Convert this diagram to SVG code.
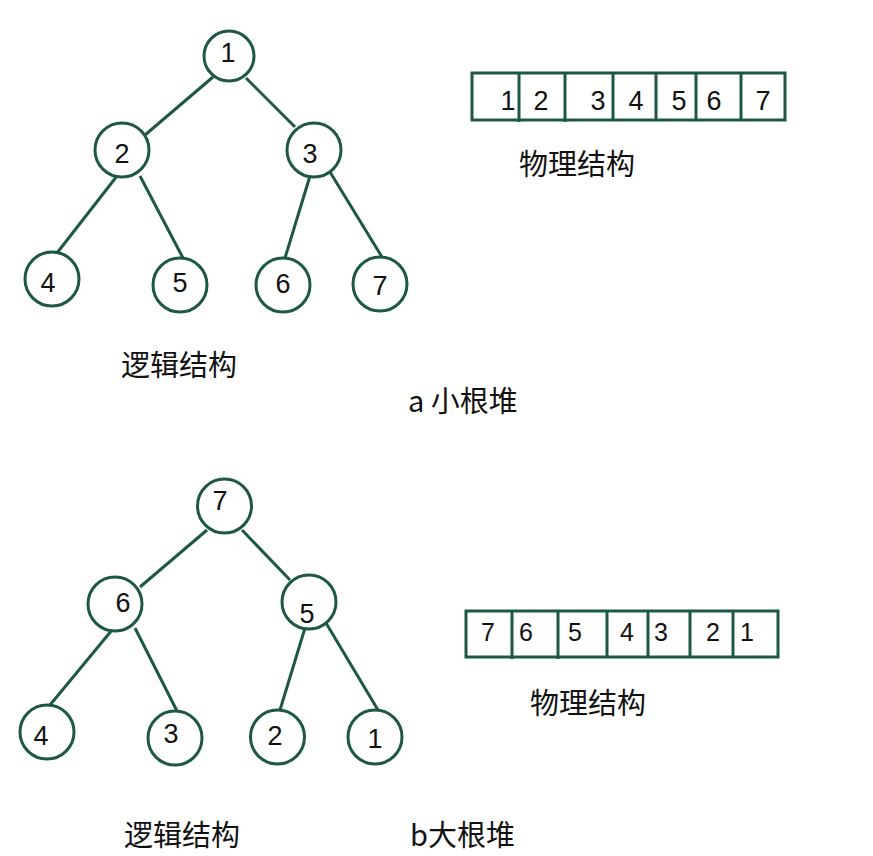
<svg xmlns="http://www.w3.org/2000/svg" width="873" height="856" viewBox="0 0 873 856">
<style>
.n{fill:#fff;stroke:#1d5846;stroke-width:3}
.e{stroke:#1d5846;stroke-width:3;fill:none}
.box{fill:#fff;stroke:#1d5846;stroke-width:3}
.t{font-family:"Liberation Sans",Arial,sans-serif;font-size:27px;fill:#111;text-anchor:middle}
.a1{font-family:"Liberation Sans",Arial,sans-serif;font-size:27px;fill:#111;text-anchor:middle}
.a2{font-family:"Liberation Sans",Arial,sans-serif;font-size:25px;fill:#111;text-anchor:middle}
.c{font-family:"Noto Sans CJK SC","Liberation Sans",sans-serif;font-size:29px;fill:#111}
</style>
<rect width="873" height="856" fill="#fff"/>
<g id="connectors">
<line class="e" x1="213" y1="77" x2="145" y2="135"/>
<line class="e" x1="246" y1="78" x2="295" y2="127"/>
<line class="e" x1="117" y1="176" x2="57" y2="253"/>
<line class="e" x1="140" y1="176" x2="183" y2="258"/>
<line class="e" x1="310" y1="176" x2="285" y2="258"/>
<line class="e" x1="330" y1="172" x2="382" y2="257"/>
<line class="e" x1="207" y1="530" x2="140" y2="587"/>
<line class="e" x1="242" y1="530" x2="290" y2="580"/>
<line class="e" x1="112" y1="630" x2="50" y2="705"/>
<line class="e" x1="135" y1="628" x2="177" y2="711"/>
<line class="e" x1="305" y1="628" x2="280" y2="710"/>
<line class="e" x1="326" y1="623" x2="378" y2="710"/>
</g>
<g id="a-n1"><circle class="n" cx="229" cy="56" r="25"/><text class="t" x="228" y="62">1</text></g>
<g id="a-n2"><circle class="n" cx="122" cy="150" r="27"/><text class="t" x="122" y="163">2</text></g>
<g id="a-n3"><circle class="n" cx="314" cy="150" r="27"/><text class="t" x="310" y="163">3</text></g>
<g id="a-n4"><circle class="n" cx="52" cy="279" r="27"/><text class="t" x="48" y="292">4</text></g>
<g id="a-n5"><circle class="n" cx="180" cy="285" r="27"/><text class="t" x="180" y="292">5</text></g>
<g id="a-n6"><circle class="n" cx="283" cy="285" r="27"/><text class="t" x="283" y="293">6</text></g>
<g id="a-n7"><circle class="n" cx="380" cy="284" r="27"/><text class="t" x="380" y="295">7</text></g>
<g id="a-array">
<rect class="box" x="472" y="73" width="313" height="47"/>
<line class="e" x1="519" y1="73" x2="519" y2="122"/>
<line class="e" x1="565" y1="73" x2="565" y2="122"/>
<line class="e" x1="613" y1="73" x2="613" y2="120"/>
<line class="e" x1="656" y1="73" x2="656" y2="120"/>
<line class="e" x1="696" y1="73" x2="696" y2="120"/>
<line class="e" x1="741" y1="73" x2="741" y2="120"/>
<text class="a1" x="508" y="110">1</text>
<text class="a1" x="541" y="110">2</text>
<text class="a1" x="598" y="110">3</text>
<text class="a1" x="636" y="110">4</text>
<text class="a1" x="679" y="110">5</text>
<text class="a1" x="714" y="110">6</text>
<text class="a1" x="763" y="110">7</text>
</g>
<text class="c" x="519" y="175">物理结构</text>
<text class="c" x="121" y="376">逻辑结构</text>
<text class="c" x="408" y="412">a 小根堆</text>
<g id="b-n7"><circle class="n" cx="224.5" cy="506" r="27"/><text class="t" x="220" y="510">7</text></g>
<g id="b-n6"><circle class="n" cx="115" cy="604" r="27"/><text class="t" x="123" y="612">6</text></g>
<g id="b-n5"><circle class="n" cx="309" cy="602" r="27"/><text class="t" x="307" y="623">5</text></g>
<g id="b-n4"><circle class="n" cx="47" cy="732" r="27"/><text class="t" x="41" y="745">4</text></g>
<g id="b-n3"><circle class="n" cx="175" cy="738" r="27"/><text class="t" x="171" y="743">3</text></g>
<g id="b-n2"><circle class="n" cx="277.5" cy="737" r="27"/><text class="t" x="275" y="745">2</text></g>
<g id="b-n1"><circle class="n" cx="375" cy="737" r="27"/><text class="t" x="375" y="748">1</text></g>
<g id="b-array">
<rect class="box" x="466" y="611" width="312" height="46"/>
<line class="e" x1="512" y1="611" x2="512" y2="659"/>
<line class="e" x1="558" y1="611" x2="558" y2="659"/>
<line class="e" x1="607" y1="611" x2="607" y2="657"/>
<line class="e" x1="648" y1="611" x2="648" y2="657"/>
<line class="e" x1="690" y1="611" x2="690" y2="657"/>
<line class="e" x1="733" y1="611" x2="733" y2="657"/>
<text class="a2" x="488" y="641">7</text>
<text class="a2" x="526" y="641">6</text>
<text class="a2" x="575" y="641">5</text>
<text class="a2" x="627" y="641">4</text>
<text class="a2" x="661" y="641">3</text>
<text class="a2" x="713" y="641">2</text>
<text class="a2" x="747" y="641">1</text>
</g>
<text class="c" x="530" y="714">物理结构</text>
<text class="c" x="124" y="846">逻辑结构</text>
<text class="c" x="410" y="846">b大根堆</text>
</svg>
